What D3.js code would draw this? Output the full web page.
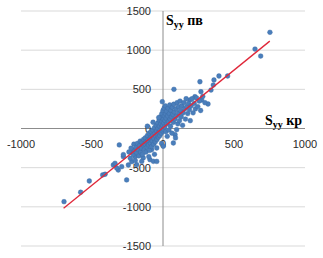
<!DOCTYPE html>
<html>
<head>
<meta charset="utf-8">
<script src="https://d3js.org/d3.v7.min.js"></script>
<style>
  body { margin: 0; background: #fff; }
  svg { display: block; }
</style>
</head>
<body>
<svg width="323" height="258"></svg>
<script>
// S_yy кр (x) vs S_yy пв (y)
const sKr = [753, 648, 688, 455, 394, 359, 260, 77, 267, 338, 317, -5, 354, 225, 272, 190,
  -697, -580, -519, -425, -408, -308, -350, -338, -315, -291, -256, -244, -220, -197, -209, -279, -326, -279, -213, -185, -92, -68, -80, -139, 73, 85, 96,
  -240, -230, -225, -210, -205, -200, -195, -190, -185, -180, -175, -170, -165, -160, -158, -152, -148, -145, -140, -137, -132, -128, -125, -120, -118, -113, -110, -106, -102, -98,
  -95, -92, -88, -85, -82, -80, -76, -72, -70, -66, -63, -60, -57, -54, -50, -48, -45, -42, -40, -37, -35, -32, -30, -27, -25, -22, -20, -17, -15, -12, -10, -8, -6, -4, -2,
  0, 2, 4, 6, 8, 10, 12, 14, 16, 18, 20, 22, 25, 28, 30, 33, 36, 39, 42, 45, 48, 50, 53, 56, 60, 63, 66, 70, 73, 76, 80, 84, 88, 92, 96, 100, 104, 108, 112, 116, 120,
  124, 128, 133, 138, 142, 147, 152, 158, 163, 168, 174, 180, 186, 192, 198, 205, 212, 220, 228, 236, 245, 255, 265, 280, 295,
  -44, -10, -60, -100, -150, 2, -44, -70, -30, -110];
const sPv = [1228, 1014, 925, 670, 670, 619, 597, 500, 470, 491, 313, 342, 555, 406, 364, 364,
  -934, -814, -670, -593, -584, -210, -466, -444, -530, -487, -657, -466, -423, -360, -274, -360, -504, -334, -313, -462, -398, -419, -270, -376, -185, -79, -15,
  -300, -380, -250, -330, -200, -290, -410, -240, -310, -190, -270, -350, -220, -160, -300, -250, -180, -330, -210, -140, -270, -200, -120, -300, -170, -240, -90, -150, -210, -60,
  -280, -130, -190, -40, -110, -230, -160, -20, -90, -200, -130, 10, -60, -170, -100, 40, -30, -140, -80, 70, 0, -110, -50, 110, 30, -90, -20, 150, 60, -60, 10, 190, 90, -30, 40,
  230, 120, -10, 70, 260, 160, 20, 100, 290, 190, -40, 130, 220, 60, -100, 160, 260, 90, -20, 190, 300, 120, 30, 230, 150, -60, 270, 180, 80, 310, 210, 120, -120, 250, 160, 330, 60, 280, 200, 100, 350,
  230, 150, 290, 40, 200, 330, 250, 120, 380, 280, 190, 320, 240, 100, 290, 380, 200, 320, 250, 390, 280, 350, 230, 410, 330,
  -420, -190, -330, -360, -420, -227, -249, 80, 140, 30];

const xTicks = [-1000, -500, 0, 500, 1000];
const yTicks = [-1500, -1000, -500, 0, 500, 1000, 1500];
// linear trend line
const trendX = [-700, 752];
const trendSlope = 1.47;
const trendIntercept = 10;

const svg = d3.select('svg');

const x = d3.scaleLinear().domain([-1000, 1000]).range([21, 305]);
const y = d3.scaleLinear().domain([-1500, 1500]).range([246, 11]);

// horizontal gridlines
svg.append('g')
  .selectAll('line')
  .data(yTicks.filter(d => d !== 0))
  .enter().append('line')
  .attr('x1', x(-1000)).attr('x2', x(1000))
  .attr('y1', d => y(d)).attr('y2', d => y(d))
  .attr('stroke', '#d9d9d9').attr('stroke-width', 1);

// axes through zero
svg.append('line')
  .attr('x1', x(-1000)).attr('x2', x(1000))
  .attr('y1', y(0)).attr('y2', y(0))
  .attr('stroke', '#8c8c8c');
svg.append('line')
  .attr('x1', x(0)).attr('x2', x(0))
  .attr('y1', y(1500)).attr('y2', y(-1500))
  .attr('stroke', '#8c8c8c');

// tick labels
svg.append('g')
  .selectAll('text')
  .data(xTicks)
  .enter().append('text')
  .attr('x', d => x(d))
  .attr('y', y(0) + 19)
  .attr('text-anchor', 'middle')
  .style('font', '11px "Liberation Sans", Arial, sans-serif')
  .style('fill', '#2b2b2b')
  .text(d => d);

svg.append('g')
  .selectAll('text')
  .data(yTicks)
  .enter().append('text')
  .attr('x', x(0) - 12)
  .attr('y', d => y(d) + 4)
  .attr('text-anchor', 'end')
  .style('font', '11px "Liberation Sans", Arial, sans-serif')
  .style('fill', '#2b2b2b')
  .text(d => d);

// points
svg.append('g')
  .selectAll('circle')
  .data(sKr.map((d, i) => [d, sPv[i]]))
  .enter().append('circle')
  .attr('cx', d => x(d[0]))
  .attr('cy', d => y(d[1]))
  .attr('r', 2.4)
  .attr('fill', '#4a7ebb')
  .attr('stroke', '#3a6aa4')
  .attr('stroke-width', 0.4);

// trend line
const line = d3.line().x(d => x(d)).y(d => y(trendSlope * d + trendIntercept));
svg.append('path')
  .datum(trendX)
  .attr('d', line)
  .attr('fill', 'none')
  .attr('stroke', '#e0283a')
  .attr('stroke-width', 1.3);

// axis titles
function title(xp, yp, sub) {
  const t = svg.append('text')
    .attr('x', xp).attr('y', yp)
    .style('font', 'bold 14px "Liberation Serif", "Times New Roman", serif')
    .style('fill', '#000');
  t.append('tspan').text('S');
  t.append('tspan').attr('dy', 3).style('font-size', '10px').text('yy');
  t.append('tspan').attr('dy', -3).text(' ' + sub);
}
title(166, 25, 'пв');
title(265, 125, 'кр');
</script>
</body>
</html>
